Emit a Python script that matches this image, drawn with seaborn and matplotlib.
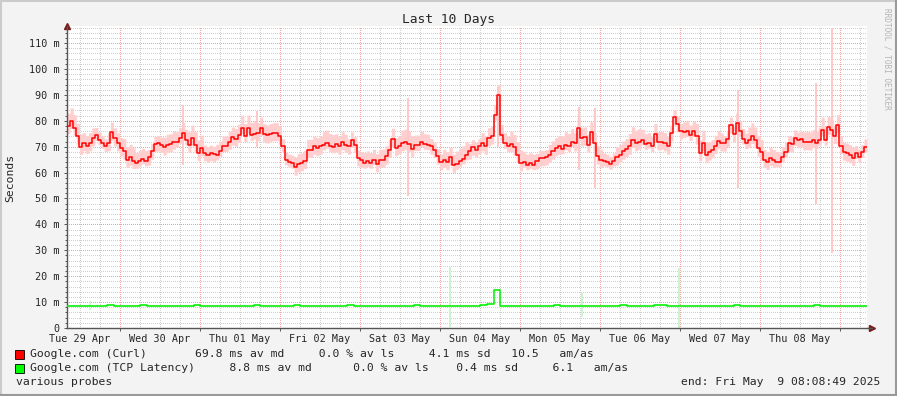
import matplotlib
matplotlib.use('Agg')
import matplotlib.pyplot as plt
import matplotlib.dates as mdates
from matplotlib.lines import Line2D
from matplotlib.patches import Rectangle
from matplotlib.ticker import FixedLocator, FixedFormatter, MultipleLocator
import numpy as np
import pandas as pd
import seaborn as sns

# time window
t_start = pd.Timestamp('2025-04-29 08:08:49')
t_end = pd.Timestamp('2025-05-09 08:08:49')

# Curl median (ms) in five chunks
seg_bounds = ['2025-04-29 08:08:49', '2025-05-01 07:33:00', '2025-05-03 07:33:00',
              '2025-05-05 07:33:00', '2025-05-07 07:33:00', '2025-05-09 08:08:49']
curl_md_1 = [78, 80, 77.4, 74, 70, 71.4, 70.4, 71.4, 73.3, 74.4, 72.7, 71.4, 70.1,
             71.4, 75.5, 73.3, 71.4, 69.5, 68.2, 65, 65.9, 64.6, 63.7, 64.6, 65.4,
             64.6, 65.9, 68.2, 71, 71.3, 70.8, 69.7, 70.8, 71, 72, 71.8, 73.3, 75.3,
             72.7, 70.8, 73.3, 70.8, 67.6, 69.5, 67.6, 66.9, 67.6, 67.2, 66.9, 68.2, 70.1]
curl_md_2 = [70.1, 72, 73.6, 73.1, 74.6, 77.2, 74, 77.2, 74.4, 74.9, 75.3, 77.4, 74.9,
             74.4, 74.9, 75.3, 75.3, 74, 70.1, 65, 64.1, 63.7, 62, 63.3, 63.7, 64.6,
             68.8, 68.8, 70.1, 69.5, 70.1, 70.8, 71.4, 70.1, 69.7, 71, 70.1, 71.8, 70.8,
             70.1, 72.7, 70.8, 65.6, 65, 63.7, 64.4, 63.7, 65, 63.3, 65, 65]
curl_md_3 = [66.3, 68.8, 73.1, 69.5, 70.1, 71.4, 71.8, 71, 69.2, 70.5, 70.5, 72, 71,
             70.8, 70.1, 68.8, 66.3, 64.1, 65, 64.1, 65.9, 63.1, 63.3, 64.4, 65.4, 66.9,
             68.2, 69.7, 68.8, 70.1, 71.4, 70.1, 73.3, 74, 82.3, 90, 74.6, 71.4, 70.1,
             71, 69.7, 66.9, 63.7, 64.1, 63.1, 63.7, 63.1, 64.4, 65.6, 65.6]
curl_md_4 = [65.9, 66.9, 68.2, 69.5, 70.1, 69.2, 70.8, 70.1, 72, 71.4, 77.2, 73.3, 73.6,
             70.8, 75.6, 71.4, 66.3, 65, 64.6, 64.1, 63.3, 64.6, 65.9, 66.9, 68.2, 69.2,
             70.1, 72.7, 71.4, 72, 72.7, 71, 71.4, 70.1, 74.9, 71.8, 72, 71.4, 70.1, 75.3,
             81.3, 78.7, 75.9, 75.6, 75.9, 74.4, 75.9, 74, 67.6, 71.4]
curl_md_5 = [66.8, 67.8, 68.7, 70.4, 72.2, 71.3, 71.3, 73, 78.4, 74.8, 79, 76, 73, 71.3,
             72.6, 74.2, 72.6, 69.4, 67.8, 64.9, 64.2, 65.8, 64.9, 64.2, 64.2, 66.1, 67.8,
             71.3, 70.9, 73.5, 72.6, 73, 71.7, 71.9, 71.7, 72.6, 71.3, 72.6, 76.4, 72.6,
             77.7, 76.4, 74.2, 78.4, 70.4, 67.8, 67.4, 66.8, 65.8, 67.4, 66.1, 67.8, 70]

# smoke spread around the Curl median, per 4 hour block (ms)
curl_smoke_up = [5, 4, 3, 4, 5, 4, 3, 4, 4, 5, 3, 4,
                 4, 5, 4, 4, 3, 4, 4, 5, 4, 3, 4, 4,
                 4, 5, 4, 3, 4, 5, 3, 4, 4, 5, 4, 3,
                 4, 5, 4, 4, 3, 4, 5, 4, 4, 3, 4, 5,
                 4, 3, 4, 5, 4, 4, 3, 4, 5, 4, 4, 3]
curl_smoke_dn = [3, 3, 2, 3, 3, 2, 3, 3, 2, 3, 3, 2,
                 3, 2, 3, 3, 2, 3, 3, 2, 3, 3, 2, 3,
                 3, 3, 2, 3, 3, 2, 3, 3, 2, 3, 2, 3,
                 3, 2, 3, 3, 2, 3, 3, 2, 3, 3, 2, 3,
                 3, 3, 2, 3, 3, 2, 3, 3, 2, 3, 3, 2]

# single outliers in the Curl smoke
curl_spike_t = ['2025-04-30 18:57', '2025-05-01 17:09', '2025-05-03 14:27', '2025-05-04 17:27',
                '2025-05-05 17:45', '2025-05-05 22:33', '2025-05-07 17:27', '2025-05-08 16:51',
                '2025-05-08 21:39']
curl_spike_lo = [63, 70, 51, 70, 61, 54, 54, 47.7, 28.8]
curl_spike_hi = [86, 83.6, 88.7, 93, 85.5, 85, 92, 94.5, 116]

# TCP latency median, 2 hour steps (ms)
tcp_md = [8.6, 8.4, 8.6, 8.4, 8.6, 8.6, 8.9, 8.6, 8.4, 8.6,
          8.6, 8.9, 8.6, 8.4, 8.4, 8.6, 8.6, 8.4, 8.6, 8.9,
          8.6, 8.6, 8.4, 8.6, 8.6, 8.4, 8.6, 8.6, 8.9, 8.6,
          8.4, 8.6, 8.6, 8.6, 8.9, 8.4, 8.6, 8.6, 8.4, 8.6,
          8.6, 8.6, 8.9, 8.6, 8.4, 8.6, 8.6, 8.4, 8.6, 8.6,
          8.4, 8.6, 8.9, 8.6, 8.6, 8.4, 8.6, 8.6, 8.6, 8.4,
          8.6, 8.6, 8.9, 9.4, 14.5, 8.6, 8.4, 8.6, 8.6, 8.4,
          8.6, 8.6, 8.6, 8.9, 8.4, 8.6, 8.6, 8.4, 8.6, 8.6,
          8.6, 8.4, 8.6, 8.9, 8.6, 8.6, 8.4, 8.6, 8.9, 8.9,
          8.6, 8.6, 8.6, 8.4, 8.6, 8.6, 8.6, 8.4, 8.6, 8.6,
          8.9, 8.6, 8.6, 8.4, 8.6, 8.6, 8.4, 8.6, 8.6, 8.4,
          8.6, 8.6, 8.9, 8.6, 8.4, 8.6, 8.6, 8.4, 8.6, 8.6]
tcp_spike_t = ['2025-04-29 15:02', '2025-05-04 03:10', '2025-05-05 18:38', '2025-05-06 23:45']
tcp_spike_lo = [7, 0.5, 4.4, 0]
tcp_spike_hi = [10.5, 23.6, 13.5, 23]

ytick_vals = [0, 10, 20, 30, 40, 50, 60, 70, 80, 90, 100, 110]
ytick_labels = ['0', '10 m', '20 m', '30 m', '40 m', '50 m', '60 m', '70 m',
                '80 m', '90 m', '100 m', '110 m']
day_labels = ['Tue 29 Apr', 'Wed 30 Apr', 'Thu 01 May', 'Fri 02 May', 'Sat 03 May',
              'Sun 04 May', 'Mon 05 May', 'Tue 06 May', 'Wed 07 May', 'Thu 08 May']

legend_rows = ['Google.com (Curl)       69.8 ms av md     0.0 % av ls     4.1 ms sd   10.5   am/as',
               'Google.com (TCP Latency)     8.8 ms av md      0.0 % av ls    0.4 ms sd     6.1   am/as']
legend_colors = ['#FF0000', '#00FF00']

# ---------------------------------------------------------------
sns.set_style('white')
plt.rcParams['font.family'] = ['DejaVu Sans Mono', 'DejaVu Sans']
W, H = 897, 396

# assemble curl series
segs = [curl_md_1, curl_md_2, curl_md_3, curl_md_4, curl_md_5]
bounds = [pd.Timestamp(b) for b in seg_bounds]
curl_t, curl_v = [], []
for i, seg in enumerate(segs):
    a, b = bounds[i], bounds[i + 1]
    n = len(seg)
    curl_t += [a + (b - a) * (k / n) for k in range(n)]
    curl_v += seg
curl_t.append(t_end)
curl_v.append(curl_v[-1])
curl_t = pd.DatetimeIndex(curl_t)
curl_v = np.array(curl_v, dtype=float)
hrs = np.asarray((curl_t - t_start) / pd.Timedelta(hours=1))
blk = np.clip((hrs // 4).astype(int), 0, len(curl_smoke_up) - 1)
curl_hi = curl_v + np.array(curl_smoke_up)[blk]
curl_lo = curl_v - np.array(curl_smoke_dn)[blk]

n = len(tcp_md)
tcp_t = pd.DatetimeIndex([t_start + (t_end - t_start) * (k / n) for k in range(n)] + [t_end])
tcp_v = np.array(tcp_md + [tcp_md[-1]], dtype=float)

fig = plt.figure(figsize=(W / 100, H / 100), dpi=100)
fig.patch.set_facecolor('#F3F3F3')
ax = fig.add_axes([67 / W, 1 - 328 / H, 800 / W, 302 / H])
ax.set_facecolor('white')

# grid
minor_x = [t for t in pd.date_range('2025-04-29 12:00', '2025-05-09 06:00', freq='6h') if t.hour != 0]
minor_lab = [day_labels[(t.normalize() - pd.Timestamp('2025-04-29')).days] if t.hour == 12 else ''
             for t in minor_x]
ax.xaxis.set_major_locator(mdates.DayLocator())
ax.xaxis.set_major_formatter(FixedFormatter([]))
ax.xaxis.set_minor_locator(FixedLocator(mdates.date2num(minor_x)))
ax.xaxis.set_minor_formatter(FixedFormatter(minor_lab))
ax.yaxis.set_major_locator(FixedLocator(ytick_vals))
ax.yaxis.set_major_formatter(FixedFormatter(ytick_labels))
ax.yaxis.set_minor_locator(MultipleLocator(2))
ax.grid(which='minor', color='#CFCFCF', linestyle=(0, (1, 2)), linewidth=0.72, antialiased=False)
ax.grid(which='major', color='#EFA2A2', linestyle=(0, (1, 2)), linewidth=0.72, antialiased=False)
ax.set_axisbelow(True)

# smoke and medians
ax.fill_between(curl_t, curl_lo, curl_hi, step='post', color='#FFCFCF', linewidth=0, zorder=2)
ax.vlines(pd.DatetimeIndex(curl_spike_t), curl_spike_lo, curl_spike_hi,
          color='#FFC8C8', linewidth=1.4, zorder=2)
ax.fill_between(tcp_t, tcp_v - 0.4, tcp_v + 0.4, step='post', color='#D8F8D8', linewidth=0, zorder=2)
ax.vlines(pd.DatetimeIndex(tcp_spike_t), tcp_spike_lo, tcp_spike_hi,
          color='#CCF5CC', linewidth=1.4, zorder=2)
sns.lineplot(x=curl_t, y=curl_v, drawstyle='steps-post', estimator=None,
             color='#FF0000', linewidth=1.1, ax=ax, zorder=3)
sns.lineplot(x=tcp_t, y=tcp_v, drawstyle='steps-post', estimator=None,
             color='#00F000', linewidth=1.1, ax=ax, zorder=3)

ax.set_xlim(t_start, t_end)
ax.set_ylim(0, 116.6)
ax.set_xlabel('')
ax.set_ylabel('')
for s in ['top', 'right']:
    ax.spines[s].set_visible(False)
for s in ['left', 'bottom']:
    ax.spines[s].set_color('#555555')
    ax.spines[s].set_linewidth(1.0)
ax.tick_params(axis='y', which='major', length=2.5, width=0.7, color='#555555',
               labelsize=7.3, pad=3, direction='out', left=True)
ax.tick_params(axis='y', which='minor', length=1.5, width=0.7, color='#555555', left=True)
ax.tick_params(axis='x', which='major', length=2.5, width=0.7, color='#555555',
               direction='out', bottom=True)
ax.tick_params(axis='x', which='minor', length=0, labelsize=7.3, pad=4)

# axis arrows
ax.plot([0], [1.0], marker='^', markersize=5, color='#7A1A1A', transform=ax.transAxes, clip_on=False)
ax.plot([1.006], [0], marker='>', markersize=5, color='#7A1A1A', transform=ax.transAxes, clip_on=False)
ax.add_line(Line2D([1, 1.006], [0, 0], color='#555555', linewidth=1.0, transform=ax.transAxes, clip_on=False))

# texts
fig.text(448 / W, 1 - 19 / H, 'Last 10 Days', ha='center', va='center', fontsize=9.3)
fig.text(10 / W, 1 - 178 / H, 'Seconds', rotation=90, ha='center', va='center', fontsize=8.2)
fig.text(887 / W, 1 - 59 / H, 'RRDTOOL / TOBI OETIKER', rotation=270, ha='center', va='center',
         fontsize=5.6, color='#B4B4B4')
for i, (row, col) in enumerate(zip(legend_rows, legend_colors)):
    yc = 354 + 14 * i
    fig.patches.append(Rectangle((15 / W, 1 - (yc + 4.5) / H), 9 / W, 9 / H, facecolor=col,
                                 edgecolor='black', linewidth=0.6, transform=fig.transFigure))
    fig.text(30 / W, 1 - yc / H, row, ha='left', va='center', fontsize=8.2)
fig.text(16 / W, 1 - 382 / H, 'various probes', ha='left', va='center', fontsize=8.2)
fig.text(880 / W, 1 - 382 / H, 'end: Fri May  9 08:08:49 2025', ha='right', va='center', fontsize=8.2)

# shaded frame
fig.add_artist(Line2D([0, 1], [1 - 1 / H, 1 - 1 / H], color='#CBCBCB', linewidth=1.5))
fig.add_artist(Line2D([1 / W, 1 / W], [0, 1], color='#CBCBCB', linewidth=1.5))
fig.add_artist(Line2D([0, 1], [1 / H, 1 / H], color='#999999', linewidth=1.5))
fig.add_artist(Line2D([1 - 1 / W, 1 - 1 / W], [0, 1], color='#999999', linewidth=1.5))

plt.savefig('out.png', dpi=100, facecolor=fig.get_facecolor())
